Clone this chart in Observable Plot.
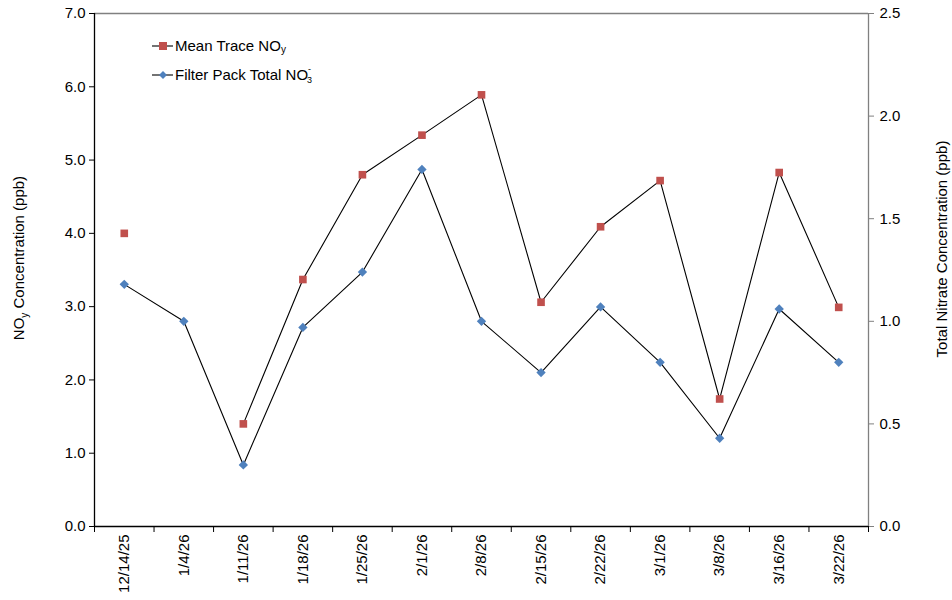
<!DOCTYPE html>
<html>
<head>
<meta charset="utf-8">
<script src="https://cdn.jsdelivr.net/npm/d3@7"></script>
<script src="https://cdn.jsdelivr.net/npm/@observablehq/plot@0.6"></script>
<style>
  html, body { margin: 0; padding: 0; background: #fff; }
  #chart { width: 952px; height: 600px; }
  svg { font-family: "Liberation Sans", Arial, sans-serif; }
</style>
</head>
<body>
<div id="chart"></div>
<script>
const dates = ["12/14/25","1/4/26","1/11/26","1/18/26","1/25/26","2/1/26","2/8/26","2/15/26","2/22/26","3/1/26","3/8/26","3/16/26","3/22/26"];
const noy = [4.00, null, 1.40, 3.37, 4.80, 5.34, 5.89, 3.06, 4.09, 4.72, 1.74, 4.83, 2.99];
const nitrate = [1.18, 1.00, 0.30, 0.97, 1.24, 1.74, 1.00, 0.75, 1.07, 0.80, 0.43, 1.06, 0.80];
const leftTicks = [0, 1, 2, 3, 4, 5, 6, 7];
const rightTicks = [0, 0.5, 1.0, 1.5, 2.0, 2.5];
const seriesNames = ["Mean Trace NO", "Filter Pack Total NO"];

const leftMax = 7, rightMax = 2.5;
const k = leftMax / rightMax;
const red = "#C0504D", blue = "#4F81BD";

const rows = dates.map((d, i) => ({i, date: d, noy: noy[i], nitrate: nitrate[i]}));
const noyRows = rows.filter(r => r.noy != null);
const boundaries = d3.range(-0.5, dates.length, 1);

const plot = Plot.plot({
  width: 952,
  height: 600,
  marginLeft: 94,
  marginRight: 84,
  marginTop: 13,
  marginBottom: 74,
  style: {fontFamily: "Liberation Sans, Arial, sans-serif", fontSize: "14px", color: "#000", background: "#fff"},
  x: {type: "linear", domain: [-0.5, dates.length - 0.5]},
  y: {domain: [0, leftMax]},
  marks: [
    Plot.ruleY([leftMax], {stroke: "#808080", strokeWidth: 1.3}),
    Plot.ruleX([dates.length - 0.5], {stroke: "#808080", strokeWidth: 1.3}),
    Plot.axisY(leftTicks, {anchor: "left", tickSize: 5, tickPadding: 4, tickFormat: d => d.toFixed(1), fontSize: 15, label: null, stroke: "#000"}),
    Plot.ruleX([-0.5], {stroke: "#000", strokeWidth: 1.3}),
    Plot.axisY(rightTicks.map(v => v * k), {anchor: "right", tickSize: 5, tickPadding: 6, tickFormat: d => (d / k).toFixed(1), fontSize: 15, label: null, stroke: "#808080"}),
    Plot.ruleY([0], {stroke: "#000", strokeWidth: 1.3}),
    Plot.axisX(boundaries, {anchor: "bottom", tickSize: 6, tickFormat: () => "", label: null, stroke: "#000"}),
    Plot.axisX(d3.range(dates.length), {anchor: "bottom", tickSize: 0, tickPadding: 8, tickRotate: -90, tickFormat: i => dates[i], fontSize: 15, label: null}),
    Plot.line(rows, {x: "i", y: "noy", stroke: "#000", strokeWidth: 1.1}),
    Plot.line(rows, {x: "i", y: d => d.nitrate * k, stroke: "#000", strokeWidth: 1.1}),
    Plot.dot(noyRows, {x: "i", y: "noy", symbol: "square", r: 4.3, fill: red, stroke: null}),
    Plot.dot(rows, {x: "i", y: d => d.nitrate * k, symbol: "diamond2", r: 4.2, fill: blue, stroke: null})
  ]
});

document.getElementById("chart").appendChild(plot);

const svg = d3.select(plot);
const lt = svg.append("text")
  .attr("transform", "translate(24,258) rotate(-90)")
  .attr("text-anchor", "middle")
  .attr("font-size", 15)
  .attr("fill", "#000");
lt.append("tspan").text("NO");
lt.append("tspan").attr("font-size", 10).attr("dy", 4).text("y");
lt.append("tspan").attr("dy", -4).text(" Concentration (ppb)");

svg.append("text")
  .attr("transform", "translate(947,249) rotate(-90)")
  .attr("text-anchor", "middle")
  .attr("font-size", 15)
  .attr("fill", "#000")
  .text("Total Nitrate Concentration (ppb)");

const lg = svg.append("g").attr("text-anchor", "start");
const items = [
  {name: seriesNames[0], color: red, sym: "square", y: 46},
  {name: seriesNames[1], color: blue, sym: "diamond", y: 75}
];
items.forEach(it => {
  lg.append("line").attr("x1", 152).attr("x2", 173).attr("y1", it.y).attr("y2", it.y).attr("stroke", "#000").attr("stroke-width", 1.1);
  if (it.sym === "square") {
    lg.append("rect").attr("x", 159).attr("y", it.y - 4).attr("width", 8).attr("height", 8).attr("fill", it.color);
  } else {
    lg.append("path").attr("d", d3.symbol(d3.symbolDiamond2, 40)()).attr("transform", `translate(163,${it.y})`).attr("fill", it.color);
  }
  const t = lg.append("text").attr("x", 175).attr("y", it.y + 5).attr("font-size", 15).attr("fill", "#000").attr("text-anchor", "start");
  t.append("tspan").text(it.name);
  if (it.sym === "square") {
    t.append("tspan").attr("font-size", 10).attr("dy", 2).text("y");
  } else {
    t.append("tspan").attr("font-size", 9).attr("dy", -8).text("-");
    t.append("tspan").attr("font-size", 9).attr("dx", -4).attr("dy", 11).text("3");
  }
});
</script>
</body>
</html>
